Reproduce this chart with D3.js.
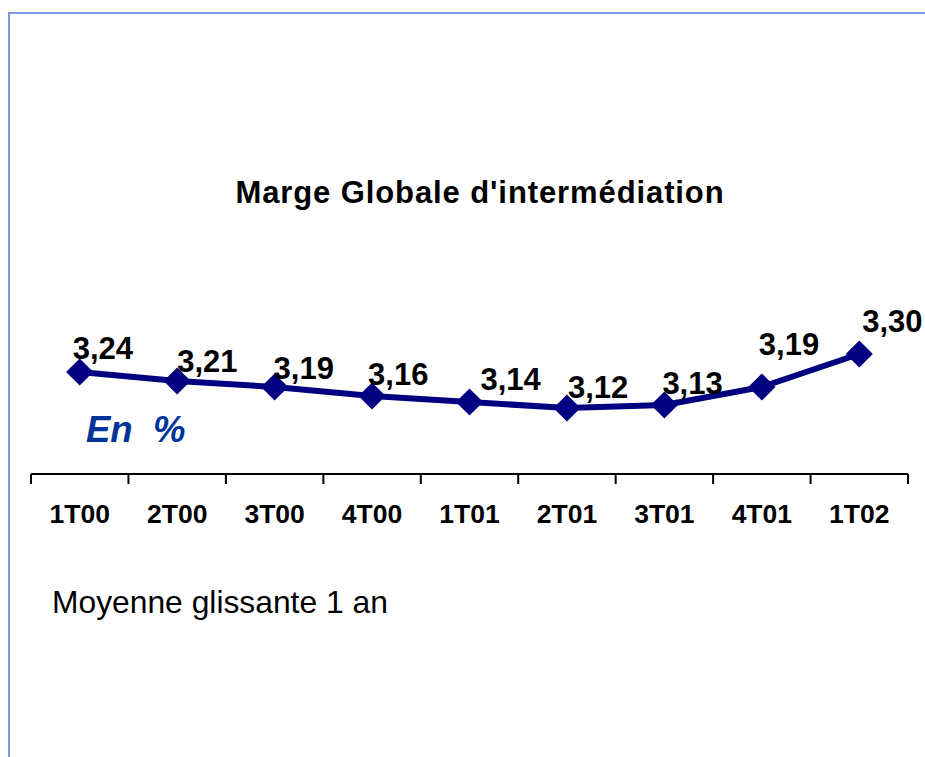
<!DOCTYPE html>
<html>
<head>
<meta charset="utf-8">
<script src="https://cdn.jsdelivr.net/npm/d3@7"></script>
<style>
  html, body { margin: 0; padding: 0; background: #fff; }
  svg { display: block; font-family: "Liberation Sans", Arial, sans-serif; }
</style>
</head>
<body>
<svg id="chart" width="925" height="757"></svg>
<script>
"use strict";

// quarters and rolling-average margin (%)
const quarters = ["1T00", "2T00", "3T00", "4T00", "1T01", "2T01", "3T01", "4T01", "1T02"];
const margins = [3.24, 3.21, 3.19, 3.16, 3.14, 3.12, 3.13, 3.19, 3.30];
const labelTexts = ["3,24", "3,21", "3,19", "3,16", "3,14", "3,12", "3,13", "3,19", "3,30"];

// manual nudges for the data labels, like the moved labels of the original
const labelNudge = [[-7, -3], [0, 1], [-1, 2], [-4, -1], [11, -2], [1, 0], [-2, -1], [-3, -22], [3, -12]];

let svg = d3.select("#chart"),
  navy = "#000080",
  plot = {left: 31, right: 908, top: 294, bottom: 474},
  x = d3.scaleBand().domain(quarters).range([plot.left, plot.right]),
  y = d3.scaleLinear().domain([2.9, 3.5]).range([plot.bottom, plot.top]),
  line = d3.line()
    .x(function(d, i) { return x(quarters[i]) + x.bandwidth() / 2; })
    .y(function(d) { return y(d); })
;

// frame of the slide box
svg.append("path")
  .attr("d", "M9,757 V13 H925")
  .attr("fill", "none")
  .attr("stroke", "#7b9be0")
  .attr("stroke-width", 2);

svg.append("text")
  .attr("x", 480)
  .attr("y", 203)
  .attr("text-anchor", "middle")
  .attr("font-size", 31)
  .attr("font-weight", "bold")
  .attr("letter-spacing", 0.9)
  .text("Marge Globale d'intermédiation");

// x axis : labels from d3, ticks between the categories
let axis = svg.append("g")
  .attr("transform", "translate(0," + plot.bottom + ")")
  .call(d3.axisBottom(x).tickSize(0).tickPadding(30.5));
axis.select(".domain").remove();
axis.selectAll("text")
  .attr("font-family", "'Liberation Sans', Arial, sans-serif")
  .attr("font-size", 26.5)
  .attr("font-weight", "bold")
  .attr("fill", "#000");

let edges = quarters.map(function(q) { return x(q); }).concat([plot.right]);
svg.append("line")
  .attr("x1", plot.left).attr("x2", plot.right)
  .attr("y1", plot.bottom).attr("y2", plot.bottom)
  .attr("stroke", "#000").attr("stroke-width", 2);
svg.append("g").selectAll("line")
  .data(edges)
  .enter()
  .append("line")
  .attr("x1", function(d) { return d; })
  .attr("x2", function(d) { return d; })
  .attr("y1", plot.bottom)
  .attr("y2", plot.bottom + 10)
  .attr("stroke", "#000")
  .attr("stroke-width", 2);

svg.append("path")
  .datum(margins)
  .attr("fill", "none")
  .attr("stroke", navy)
  .attr("stroke-width", 6)
  .attr("stroke-linejoin", "round")
  .attr("d", line);

let diamond = d3.symbol().type(d3.symbolSquare).size(370);
svg.append("g").selectAll("path")
  .data(margins)
  .enter()
  .append("path")
  .attr("d", diamond)
  .attr("fill", navy)
  .attr("transform", function(d, i) {
    return "translate(" + (x(quarters[i]) + x.bandwidth() / 2) + "," + y(d) + ") rotate(45)";
  });

svg.append("g").selectAll("text")
  .data(margins)
  .enter()
  .append("text")
  .attr("x", function(d, i) { return x(quarters[i]) + x.bandwidth() / 2 + labelNudge[i][0]; })
  .attr("y", function(d, i) { return y(d) - 10 + labelNudge[i][1]; })
  .attr("font-size", 31)
  .attr("font-weight", "bold")
  .attr("fill", "#000")
  .text(function(d, i) { return labelTexts[i]; });

svg.append("text")
  .attr("x", 86)
  .attr("y", 442)
  .attr("font-size", 36.5)
  .attr("font-weight", "bold")
  .attr("font-style", "italic")
  .attr("fill", "#003399")
  .attr("xml:space", "preserve")
  .style("white-space", "pre")
  .text("En  %");

svg.append("text")
  .attr("x", 52)
  .attr("y", 613)
  .attr("font-size", 31.8)
  .attr("fill", "#000")
  .text("Moyenne glissante 1 an");
</script>
</body>
</html>
